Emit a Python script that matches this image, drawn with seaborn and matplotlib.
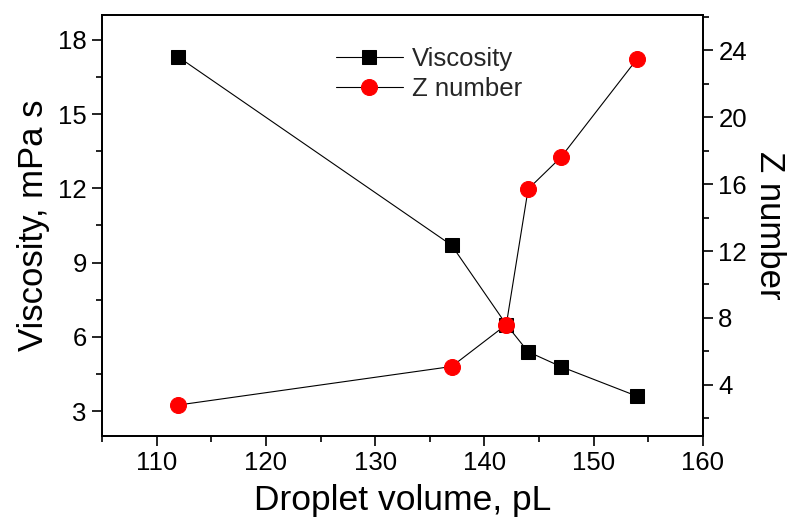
import matplotlib
matplotlib.use("Agg")
import matplotlib.pyplot as plt
from matplotlib.ticker import MultipleLocator
import seaborn as sns
import pandas as pd

# Measured data
droplet_volume = [112, 137, 142, 144, 147, 154]
viscosity = [17.3, 9.7, 6.5, 5.4, 4.8, 3.6]
z_number = [2.8, 5.1, 7.6, 15.7, 17.6, 23.5]

df = pd.DataFrame({"volume": droplet_volume, "viscosity": viscosity, "z": z_number})

sns.set_theme(style="white")
plt.rcParams["font.family"] = ["Liberation Sans", "DejaVu Sans"]

fig = plt.figure(figsize=(7.92, 5.22), dpi=100)
ax = fig.add_axes([0.1288, 0.1648, 0.8876 - 0.1288, 0.9713 - 0.1648])
ax2 = ax.twinx()

sns.lineplot(data=df, x="volume", y="viscosity", ax=ax, color="black",
             marker="s", markersize=10, markeredgecolor="black",
             markerfacecolor="black", linewidth=0.8, label="Viscosity",
             legend=False)
sns.lineplot(data=df, x="volume", y="z", ax=ax2, color="black",
             marker="o", markersize=11.5, markeredgecolor="red",
             markerfacecolor="red", linewidth=0.8, label="Z number",
             legend=False)

ax.set_xlim(105, 160)
ax.set_ylim(2.0, 19.0)
ax2.set_ylim(0.95, 26.1)

ax.xaxis.set_major_locator(MultipleLocator(10))
ax.xaxis.set_minor_locator(MultipleLocator(5))
ax.yaxis.set_major_locator(MultipleLocator(3))
ax.yaxis.set_minor_locator(MultipleLocator(1.5))
ax2.yaxis.set_major_locator(MultipleLocator(4))
ax2.yaxis.set_minor_locator(MultipleLocator(2))

for a in (ax, ax2):
    for s in a.spines.values():
        s.set_color("black")
        s.set_linewidth(1.3)
    a.tick_params(which="major", direction="out", length=7, width=1.2,
                  color="black", labelsize=18.5, labelcolor="black", pad=4)
    a.tick_params(which="minor", direction="out", length=4.5, width=1.2,
                  color="black")

ax.tick_params(axis="x", which="both", bottom=True, top=False)
ax.tick_params(axis="y", which="both", left=True, right=False)
ax2.tick_params(axis="y", which="both", right=True, left=False)

ax.set_xlabel("Droplet volume, pL", fontsize=25.5, color="black", labelpad=6)
ax.set_ylabel("Viscosity, mPa s", fontsize=25, color="black", labelpad=6)
ax2.set_ylabel("Z number", fontsize=25, color="black", rotation=270,
               labelpad=28)

h1, l1 = ax.get_legend_handles_labels()
h2, l2 = ax2.get_legend_handles_labels()
ax2.legend(h1 + h2, l1 + l2, loc="upper left", bbox_to_anchor=(0.389, 0.925),
           frameon=False, fontsize=18.5, handlelength=2.6, handletextpad=0.35,
           labelspacing=0.25, borderaxespad=0, borderpad=0)

fig.savefig("out.png", dpi=100)
